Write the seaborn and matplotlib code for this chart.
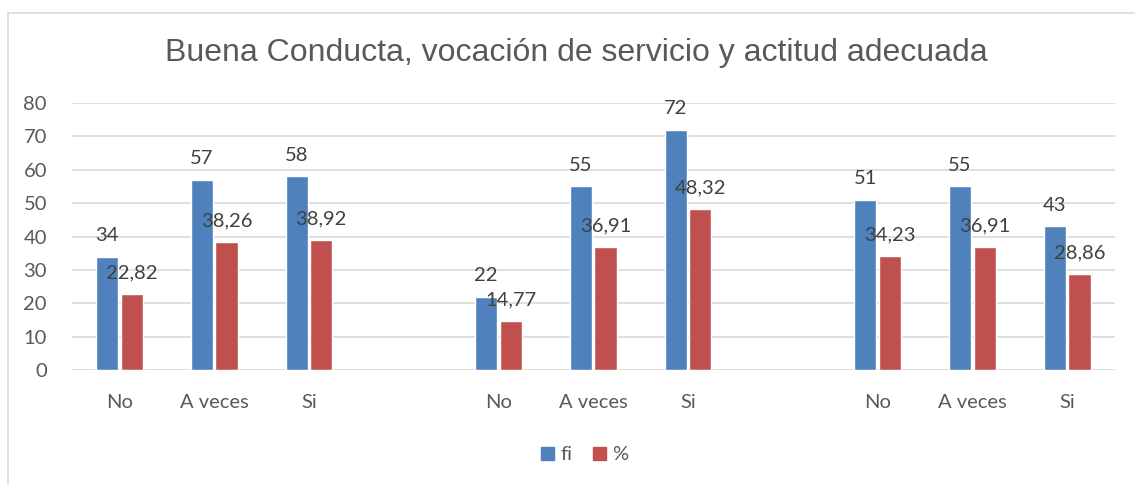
import pandas as pd
import seaborn as sns
import matplotlib.pyplot as plt
from matplotlib.lines import Line2D

# Data
grupos = ["g1", "g2", "g3"]
categorias = ["No", "A veces", "Si"]
fi = [34, 57, 58, 22, 55, 72, 51, 55, 43]
porcentaje = [22.82, 38.26, 38.92, 14.77, 36.91, 48.32, 34.23, 36.91, 28.86]
series = ["fi", "%"]
titulo = "Buena Conducta, vocación de servicio y actitud adecuada"

colores = {"fi": "#4F81BD", "%": "#C0504D"}

# Build long table, with an empty slot between groups
filas = []
orden = []
etiquetas = []
i = 0
for gi, g in enumerate(grupos):
    for c in categorias:
        clave = g + "|" + c
        orden.append(clave)
        etiquetas.append(c)
        filas.append({"x": clave, "serie": "fi", "valor": fi[i]})
        filas.append({"x": clave, "serie": "%", "valor": porcentaje[i]})
        i += 1
    if gi < len(grupos) - 1:
        orden.append("hueco" + str(gi))
        etiquetas.append("")
df = pd.DataFrame(filas)

sns.set_style("white")
plt.rcParams["font.family"] = ["Lato", "DejaVu Sans"]

fig = plt.figure(figsize=(11.35, 4.84), dpi=100)
ax = fig.add_axes([0.0634, 0.2355, 0.9186, 0.5517])

sns.barplot(data=df, x="x", y="valor", hue="serie", order=orden,
            hue_order=series, palette=colores, width=0.52, gap=0.1,
            saturation=1, ax=ax, legend=False)

for cont, s in zip(ax.containers, series):
    if s == "fi":
        labs = [f"{v:.0f}" for v in cont.datavalues]
    else:
        labs = [f"{v:.2f}".replace(".", ",") for v in cont.datavalues]
    ax.bar_label(cont, labels=labs, padding=9, fontsize=14.5, color="#404040")

ax.set_ylim(0, 80)
ax.set_yticks(range(0, 81, 10))
ax.set_xlim(-0.5, len(orden) - 0.5)
ax.set_xticks(range(len(orden)))
ax.set_xticklabels(etiquetas)
ax.tick_params(axis="both", length=0, labelsize=14.5, labelcolor="#595959")
ax.tick_params(axis="x", pad=17)
ax.tick_params(axis="y", pad=18)
ax.grid(axis="y", color="#D9D9D9", linewidth=1.2)
ax.set_axisbelow(True)
for sp in ax.spines.values():
    sp.set_visible(False)
ax.set_xlabel("")
ax.set_ylabel("")

fig.text(0.508, 0.89, titulo, ha="center", va="center", fontsize=23,
         color="#595959", family=["Liberation Sans", "DejaVu Sans"])

handles = [plt.Rectangle((0, 0), 1, 1, color=colores[s]) for s in series]
fig.legend(handles, series, loc="center", bbox_to_anchor=(0.515, 0.06), ncol=2,
           frameon=False, fontsize=14.5, handlelength=0.65, handleheight=0.65,
           handletextpad=0.3, columnspacing=1.0, labelcolor="#595959")

# outer chart border
fig.add_artist(Line2D([8 / 1135, 1], [1 - 13 / 484, 1 - 13 / 484],
                      transform=fig.transFigure, color="#D9D9D9", linewidth=1.2))
fig.add_artist(Line2D([8 / 1135, 8 / 1135], [0, 1 - 13 / 484],
                      transform=fig.transFigure, color="#D9D9D9", linewidth=1.2))

plt.savefig("out.png", dpi=100)
plt.close()
